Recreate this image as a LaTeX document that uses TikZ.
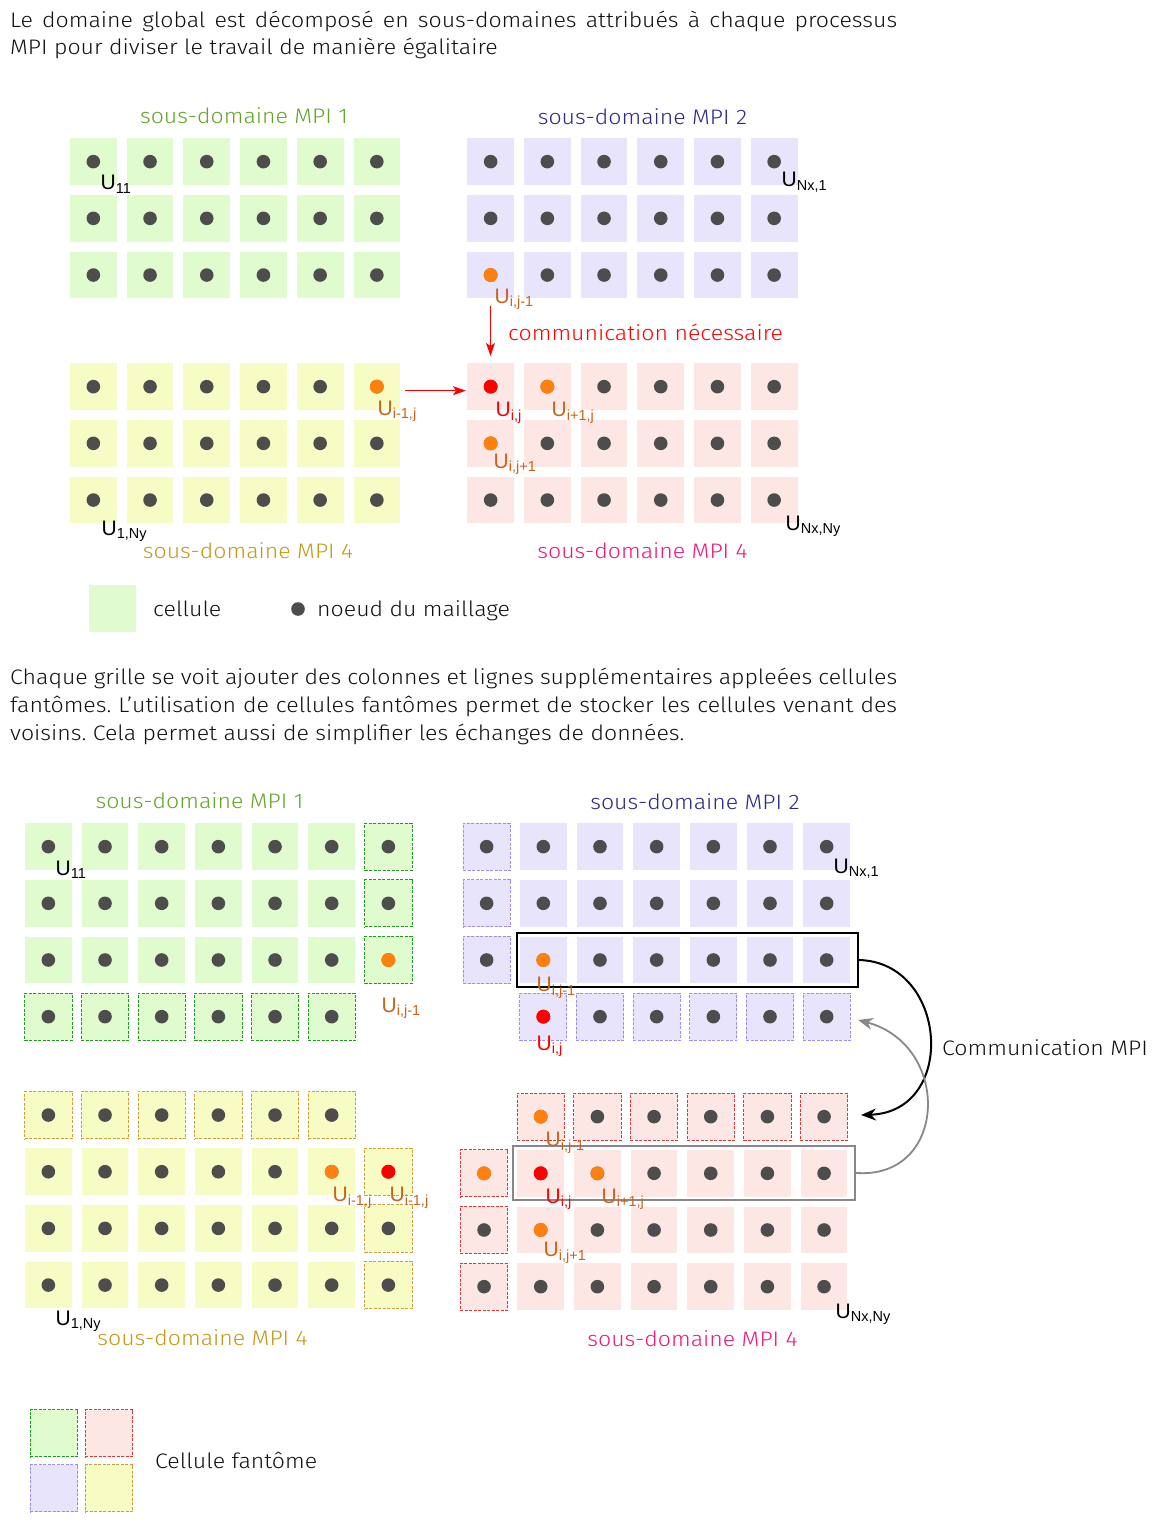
\documentclass[tikz,border=0pt]{standalone}
\usepackage{fontspec}
\setmainfont{Fira Sans Light}[FakeStretch=1.1]
\newfontfamily\labf{Liberation Sans}
\usetikzlibrary{arrows.meta}
\definecolor{gF}{HTML}{E0FBCE}
\definecolor{bF}{HTML}{E7E4FC}
\definecolor{yF}{HTML}{F6FCC4}
\definecolor{pF}{HTML}{FDE7E5}
\definecolor{dotC}{HTML}{4D4D4D}
\definecolor{orD}{HTML}{FF7F0F}
\definecolor{labO}{HTML}{C8641C}
\definecolor{gD}{HTML}{1F9A1F}
\definecolor{bD}{HTML}{9D8CF5}
\definecolor{pD}{HTML}{D43A3A}
\definecolor{yD}{HTML}{C9A03C}
\definecolor{tG}{HTML}{62A628}
\definecolor{tB}{HTML}{2B2888}
\definecolor{tP}{HTML}{F0167C}
\definecolor{tY}{HTML}{C29A18}
\definecolor{txt}{HTML}{111111}
\definecolor{grayA}{HTML}{888888}
\newcommand\ulab[1]{U\raisebox{-3.5pt}{\fontsize{14.5}{14.5}\selectfont #1}}
\frenchspacing
\begin{document}
\begin{tikzpicture}[x=1pt,y=-1pt,
  cell/.style={minimum size=46.7pt, inner sep=0pt, outer sep=0pt},
  ghost/.style={cell, draw, dash pattern=on 3pt off 1.5pt, line width=1pt, minimum size=47.3pt},
  gdot/.style={circle, fill=dotC, minimum size=13.6pt, inner sep=0pt},
  odot/.style={circle, fill=orD, minimum size=14pt, inner sep=0pt},
  rdot/.style={circle, fill=red, minimum size=14pt, inner sep=0pt},
  lab/.style={anchor=base west, inner sep=0pt, font=\labf\fontsize{21}{21}\selectfont},
  ttl/.style={anchor=base, inner sep=0pt, font=\fontsize{21}{24}\selectfont},
  txtn/.style={anchor=base west, inner sep=0pt, text=txt, font=\fontsize{21}{24}\selectfont},
  para/.style={anchor=base west, inner sep=0pt, text=txt, font=\fontsize{21}{28}\selectfont},
  redarr/.style={draw=red, line width=1.2pt, -{Stealth[length=13pt,width=9pt,inset=3pt]}},
  blkarr/.style={draw=black, line width=2pt, -{Stealth[length=15pt,width=12pt,inset=5pt]}},
  grayarr/.style={draw=grayA, line width=1.8pt, -{Stealth[length=15pt,width=12pt,inset=5pt]}}
]
\fill[white] (0,0) rectangle (1157,1522);
\path[use as bounding box] (0,0) rectangle (1157,1522);

% paragraph 1
\node[para] (l1) at (10,27.3) {\makebox[887pt][s]{Le domaine global est décomposé en sous-domaines attribués à chaque processus}};
\node[para] (l2) at (10,55) {MPI pour diviser le travail de manière égalitaire};

% ---------- top grids ----------
\foreach \c in {0,...,5}{\foreach \r in {0,1,2}{
  \node[cell,fill=gF] (ta-\c-\r) at ({93.35+\c*56.7},{161.65+\r*56.7}) {};
  \node[gdot] (ta-\c-\r-d) at (ta-\c-\r) {};
  \node[cell,fill=bF] (tb-\c-\r) at ({490.65+\c*56.7},{161.65+\r*56.7}) {};
  \node[gdot] (tb-\c-\r-d) at (tb-\c-\r) {};
  \node[cell,fill=yF] (tc-\c-\r) at ({93.35+\c*56.7},{386.65+\r*56.7}) {};
  \node[gdot] (tc-\c-\r-d) at (tc-\c-\r) {};
  \node[cell,fill=pF] (td-\c-\r) at ({490.65+\c*56.7},{386.65+\r*56.7}) {};
  \node[gdot] (td-\c-\r-d) at (td-\c-\r) {};
}}
\node[odot] (to1) at (tb-0-2) {};
\node[odot] (to2) at (tc-5-0) {};
\node[rdot] (tr1) at (td-0-0) {};
\node[odot] (to3) at (td-1-0) {};
\node[odot] (to4) at (td-0-1) {};

\node[ttl,text=tG] (tt1) at (244,124) {sous-domaine MPI 1};
\node[ttl,text=tB] (tt2) at (642.5,124.5) {sous-domaine MPI 2};
\node[ttl,text=tY] (tt3) at (248,558) {sous-domaine MPI 4};
\node[ttl,text=tP] (tt4) at (642.5,558) {sous-domaine MPI 4};

\node[lab] (u1) at (100.5,190) {\ulab{11}};
\node[lab] (u2) at (781.5,187) {\ulab{Nx,1}};
\node[lab,text=labO] (u3) at (494.5,303.3) {\ulab{i,j-1}};
\node[lab,text=labO] (u4) at (377.5,415) {\ulab{i-1,j}};
\node[lab] (u5) at (101.5,535) {\ulab{1,Ny}};
\node[lab,text=red] (u6) at (495.5,416.7) {\ulab{i,j}};
\node[lab,text=labO] (u7) at (551.5,416.7) {\ulab{i+1,j}};
\node[lab,text=labO] (u8) at (493.5,468.3) {\ulab{i,j+1}};
\node[lab] (u9) at (785.5,530) {\ulab{Nx,Ny}};

\coordinate (va) at (490.5,306);
\coordinate (vb) at (490.5,356);
\draw[redarr] (va) -- (vb);
\coordinate (ha) at (405,390.7);
\coordinate (hb) at (466,390.7);
\draw[redarr] (ha) -- (hb);
\node[txtn, text=red] (comm) at (508,340) {communication nécessaire};

% legend 1
\node[cell,fill=gF] (lg1) at (112.5,608.5) {};
\node[txtn] (lg1t) at (153,616.7) {cellule};
\node[gdot] (lg2) at (298,609) {};
\node[txtn] (lg2t) at (317,616.7) {noeud du maillage};

% paragraph 2
\node[para] (l3) at (10,684.5) {\makebox[887pt][s]{Chaque grille se voit ajouter des colonnes et lignes supplémentaires appleées cellules}};
\node[para] (l4) at (10,712.2) {\makebox[887pt][s]{fantômes. L'utilisation de cellules fantômes permet de stocker les cellules venant des}};
\node[para] (l5) at (10,740) {voisins. Cela permet aussi de simplifier les échanges de données.};

% ---------- bottom grids ----------
% green
\foreach \c in {0,...,5}{\foreach \r in {0,1,2}{
  \node[cell,fill=gF] (ba-\c-\r) at ({48.35+\c*56.67},{846.65+\r*56.67}) {};
  \node[gdot] (ba-\c-\r-d) at (ba-\c-\r) {};
}}
\foreach \r in {0,1,2}{
  \node[ghost,fill=gF,draw=gD] (ba-6-\r) at ({48.35+6*56.67},{846.65+\r*56.67}) {};
  \node[gdot] (ba-6-\r-d) at (ba-6-\r) {};
}
\foreach \c in {0,...,5}{
  \node[ghost,fill=gF,draw=gD] (ba-\c-3) at ({48.35+\c*56.67},{846.65+3*56.67}) {};
  \node[gdot] (ba-\c-3-d) at (ba-\c-3) {};
}
\node[odot] (bo1) at (ba-6-2) {};

% purple
\foreach \c in {1,...,6}{\foreach \r in {0,1,2}{
  \node[cell,fill=bF] (bb-\c-\r) at ({486.65+\c*56.67},{846.65+\r*56.67}) {};
  \node[gdot] (bb-\c-\r-d) at (bb-\c-\r) {};
}}
\foreach \r in {0,1,2}{
  \node[ghost,fill=bF,draw=bD] (bb-0-\r) at (486.65,{846.65+\r*56.67}) {};
  \node[gdot] (bb-0-\r-d) at (bb-0-\r) {};
}
\foreach \c in {1,...,6}{
  \node[ghost,fill=bF,draw=bD] (bb-\c-3) at ({486.65+\c*56.67},{846.65+3*56.67}) {};
  \node[gdot] (bb-\c-3-d) at (bb-\c-3) {};
}
\node[odot] (bo2) at (bb-1-2) {};
\node[rdot] (br1) at (bb-1-3) {};

% yellow
\foreach \c in {0,...,5}{\foreach \r in {1,2,3}{
  \node[cell,fill=yF] (bc-\c-\r) at ({48.35+\c*56.67},{1115.05+\r*56.67}) {};
  \node[gdot] (bc-\c-\r-d) at (bc-\c-\r) {};
}}
\foreach \c in {0,...,5}{
  \node[ghost,fill=yF,draw=yD] (bc-\c-0) at ({48.35+\c*56.67},1115.05) {};
  \node[gdot] (bc-\c-0-d) at (bc-\c-0) {};
}
\foreach \r in {1,2,3}{
  \node[ghost,fill=yF,draw=yD] (bc-6-\r) at ({48.35+6*56.67},{1115.05+\r*56.67}) {};
  \node[gdot] (bc-6-\r-d) at (bc-6-\r) {};
}
\node[odot] (bo3) at (bc-5-1) {};
\node[rdot] (br2) at (bc-6-1) {};

% pink
\foreach \c in {1,...,6}{\foreach \r in {1,2,3}{
  \node[cell,fill=pF] (bd-\c-\r) at ({484.05+\c*56.67},{1116.65+\r*56.67}) {};
  \node[gdot] (bd-\c-\r-d) at (bd-\c-\r) {};
}}
\foreach \c in {1,...,6}{
  \node[ghost,fill=pF,draw=pD] (bd-\c-0) at ({484.05+\c*56.67},1116.65) {};
  \node[gdot] (bd-\c-0-d) at (bd-\c-0) {};
}
\foreach \r in {1,2,3}{
  \node[ghost,fill=pF,draw=pD] (bd-0-\r) at (484.05,{1116.65+\r*56.67}) {};
  \node[gdot] (bd-0-\r-d) at (bd-0-\r) {};
}
\node[odot] (bo4) at (bd-1-0) {};
\node[odot] (bo5) at (bd-0-1) {};
\node[rdot] (br3) at (bd-1-1) {};
\node[odot] (bo6) at (bd-2-1) {};
\node[odot] (bo7) at (bd-1-2) {};

% frames
\node[draw=black, line width=2pt, minimum width=341.3pt, minimum height=54.6pt, inner sep=0pt] (rb) at (687.2,960) {};
\node[draw=grayA, line width=2pt, minimum width=341.4pt, minimum height=53.7pt, inner sep=0pt] (rg) at (684,1172.9) {};

% titles bottom
\node[ttl,text=tG] (bt1) at (199.5,808) {sous-domaine MPI 1};
\node[ttl,text=tB] (bt2) at (695,809) {sous-domaine MPI 2};
\node[ttl,text=tY] (bt3) at (202.5,1345) {sous-domaine MPI 4};
\node[ttl,text=tP] (bt4) at (692.5,1346) {sous-domaine MPI 4};

% labels bottom
\node[lab] (v1) at (55.5,875) {\ulab{11}};
\node[lab,text=labO] (v2) at (381.5,1012) {\ulab{i,j-1}};
\node[lab] (v3) at (833.5,873.3) {\ulab{Nx,1}};
\node[lab,text=labO] (v4) at (536.5,991.7) {\ulab{i,j-1}};
\node[lab,text=red] (v5) at (536.5,1050) {\ulab{i,j}};
\node[lab,text=labO] (v6) at (332.5,1201.7) {\ulab{i-1,j}};
\node[lab,text=labO] (v7) at (389.5,1201.7) {\ulab{i-1,j}};
\node[lab] (v8) at (55.5,1325) {\ulab{1,Ny}};
\node[lab,text=labO] (v9) at (545.5,1146.7) {\ulab{i,j-1}};
\node[lab,text=red] (v10) at (545.5,1203.3) {\ulab{i,j}};
\node[lab,text=labO] (v11) at (601.5,1203.3) {\ulab{i+1,j}};
\node[lab,text=labO] (v12) at (543.5,1256.7) {\ulab{i,j+1}};
\node[lab] (v13) at (835.5,1318.3) {\ulab{Nx,Ny}};

% communication arrows
\coordinate (bt) at (861,1115);
\coordinate (gt) at (858,1020);
\draw[blkarr] (rb.east) .. controls (948,962) and (958,1112) .. (bt);
\draw[grayarr] (rg.east) .. controls (948,1180) and (952,1045) .. (gt);
\node[txtn] (cmpi) at (942,1055) {Communication MPI};

% legend 2
\node[ghost,fill=gF,draw=gD] (lgA) at (53.85,1433.3) {};
\node[ghost,fill=pF,draw=pD] (lgB) at (108.85,1433.3) {};
\node[ghost,fill=bF,draw=bD] (lgC) at (53.85,1488.2) {};
\node[ghost,fill=yF,draw=yD] (lgD) at (108.85,1488.2) {};
\node[txtn] (lgt) at (155,1468) {Cellule fantôme};
\end{tikzpicture}
\end{document}
